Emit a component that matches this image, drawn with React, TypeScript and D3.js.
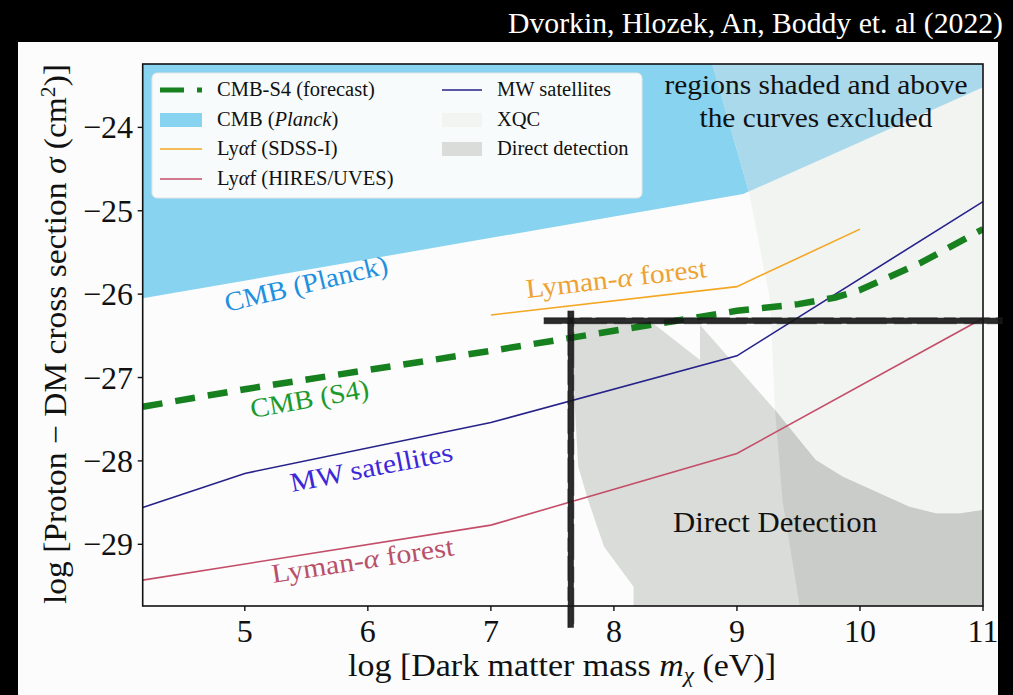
import React from 'react';
import * as d3 from 'd3';

const W = 1013;
const H = 695;

const xTicks = [5, 6, 7, 8, 9, 10, 11];
const yTicks = [-24, -25, -26, -27, -28, -29];

// CMB-S4 forecast (dashed)
const s4X = [4.17, 5, 6, 7, 8, 9, 9.5, 9.8, 10, 10.5, 11];
const s4Y = [-27.35, -27.14, -26.91, -26.68, -26.44, -26.2, -26.12, -26.04, -25.95, -25.62, -25.22];
// MW satellites
const mwX = [4.17, 5, 7, 9, 11];
const mwY = [-28.56, -28.15, -27.54, -26.74, -24.89];
// Lyman-alpha HIRES/UVES
const hiresX = [4.17, 7, 9, 11];
const hiresY = [-29.43, -28.77, -27.91, -26.29];
// Lyman-alpha SDSS-I
const sdssX = [7, 9, 10];
const sdssY = [-26.25, -25.91, -25.22];
// CMB Planck lower boundary
const planckX = [4.17, 9.05, 11];
const planckY = [-26.05, -24.8, -23.52];
// XQC region
const xqcX = [8.8, 9.1, 9.27, 9.31, 9.37, 9.51, 11, 11];
const xqcY = [-23.24, -24.79, -26.07, -27.39, -28.47, -29.74, -29.74, -23.24];
// Direct detection region
const ddX = [7.67, 8.31, 8.7, 8.7, 9.31, 9.42, 9.53, 9.64, 9.86, 10.13, 10.4, 10.62, 10.81, 11, 11, 8.16, 8.16, 7.92, 7.79, 7.71, 7.68];
const ddY = [-26.34, -26.34, -26.79, -26.37, -27.39, -27.59, -27.79, -27.99, -28.19, -28.37, -28.55, -28.63, -28.63, -28.59, -29.74, -29.74, -29.51, -29.03, -28.47, -28.07, -27.3];
// hand-drawn marks
const handHX = [7.43, 11.16];
const handHY = [-26.32, -26.32];
const handVX = [7.65, 7.65];
const handVY = [-26.2, -30.0];

const xDomain = [4.17, 11];
const yDomain = [-29.74, -23.24];

const zip = (xs: number[], ys: number[]) => xs.map((x, i) => [x, ys[i]] as [number, number]);

export default function App() {
  const x = d3.scaleLinear().domain(xDomain).range([142.7, 983]);
  const y = d3.scaleLinear().domain(yDomain).range([606, 64]);
  const line = d3.line<[number, number]>().x(d => x(d[0])).y(d => y(d[1]));

  const planckArea = line([...zip(planckX, planckY), [11, yDomain[1]], [xDomain[0], yDomain[1]]]) + 'Z';
  const xqcPath = line(zip(xqcX, xqcY)) + 'Z';
  const ddPath = line(zip(ddX, ddY)) + 'Z';

  const serif = '"Liberation Serif", "DejaVu Serif", serif';
  const handH = line(zip(handHX, handHY))!;
  const handV = line(zip(handVX, handVY))!;

  const L = { x: 152, y: 73, w: 490, h: 125 };
  const rows = [90, 120, 149, 179];
  const lc1 = 160, lt1 = 217, lc2 = 442, lt2 = 497;

  return (
    <svg width={W} height={H} style={{ position: 'absolute', left: 0, top: 0, background: '#000' }}>
      <defs>
        <clipPath id="plotclip">
          <rect x={x(xDomain[0])} y={y(yDomain[1])} width={x(xDomain[1]) - x(xDomain[0])} height={y(yDomain[0]) - y(yDomain[1])} />
        </clipPath>
        <clipPath id="xqcclip">
          <path d={xqcPath} />
        </clipPath>
      </defs>
      <rect x={0} y={0} width={W} height={H} fill="#000" />
      <rect x={18} y={42} width={980} height={H - 42} fill="#fbfcfb" />
      <text x={1003} y={33} fill="#fff" fontFamily={serif} fontSize={29} textAnchor="end" textLength={495} lengthAdjust="spacingAndGlyphs">Dvorkin, Hlozek, An, Boddy et. al (2022)</text>

      <g clipPath="url(#plotclip)">
        <path d={planckArea} fill="#87d3f0" />
        <path d={xqcPath} fill="#f1f4f1" />
        <path d={planckArea} fill="#a9d9ea" clipPath="url(#xqcclip)" />
        <path d={ddPath} fill="#d9dcd9" />
        <path d={ddPath} fill="#c9ccc9" clipPath="url(#xqcclip)" />

        <path d={line(zip(hiresX, hiresY))!} fill="none" stroke="#c44e6a" strokeWidth={1.6} />
        <path d={line(zip(mwX, mwY))!} fill="none" stroke="#27228a" strokeWidth={1.6} />
        <path d={line(zip(sdssX, sdssY))!} fill="none" stroke="#f5a623" strokeWidth={1.6} />
        <path d={line(zip(s4X, s4Y))!} fill="none" stroke="#17801f" strokeWidth={6.5} strokeDasharray="20,13" />
      </g>

      {/* frame */}
      <rect x={x(xDomain[0])} y={y(yDomain[1])} width={x(xDomain[1]) - x(xDomain[0])} height={y(yDomain[0]) - y(yDomain[1])} fill="none" stroke="#111" strokeWidth={1.6} />

      {/* legend */}
      <rect x={L.x} y={L.y} width={L.w} height={L.h} rx={5} fill="#fbfcfb" fillOpacity={0.97} stroke="#e4e6e4" />
      <line x1={lc1} x2={lc1 + 42} y1={rows[0]} y2={rows[0]} stroke="#17801f" strokeWidth={5} strokeDasharray="24,13" />
      <rect x={lc1} y={rows[1] - 7} width={42} height={14} fill="#87d3f0" />
      <line x1={lc1} x2={lc1 + 42} y1={rows[2]} y2={rows[2]} stroke="#f5a623" strokeWidth={1.6} />
      <line x1={lc1} x2={lc1 + 42} y1={rows[3]} y2={rows[3]} stroke="#c44e6a" strokeWidth={1.6} />
      <line x1={lc2} x2={lc2 + 40} y1={rows[0]} y2={rows[0]} stroke="#27228a" strokeWidth={1.6} />
      <rect x={lc2} y={rows[1] - 7} width={40} height={14} fill="#f1f4f1" />
      <rect x={lc2} y={rows[2] - 7} width={40} height={14} fill="#d9dcd9" />
      <g fontFamily={serif} fontSize={20.5} fill="#111">
        <text x={lt1} y={rows[0] + 6}>CMB-S4 (forecast)</text>
        <text x={lt1} y={rows[1] + 6}>CMB (<tspan fontStyle="italic">Planck</tspan>)</text>
        <text x={lt1} y={rows[2] + 6}>Ly<tspan fontStyle="italic">α</tspan>f (SDSS-I)</text>
        <text x={lt1} y={rows[3] + 6}>Ly<tspan fontStyle="italic">α</tspan>f (HIRES/UVES)</text>
        <text x={lt2} y={rows[0] + 6}>MW satellites</text>
        <text x={lt2} y={rows[1] + 6}>XQC</text>
        <text x={lt2} y={rows[2] + 6}>Direct detection</text>
      </g>

      {/* annotations */}
      <g fontFamily={serif}>
        <text x={816} y={94} fontSize={28} fill="#111" textAnchor="middle" textLength={303} lengthAdjust="spacingAndGlyphs">regions shaded and above</text>
        <text x={816} y={127} fontSize={28} fill="#111" textAnchor="middle" textLength={233} lengthAdjust="spacingAndGlyphs">the curves excluded</text>
        <text x={775} y={532} fontSize={29} fill="#111" textAnchor="middle" textLength={204} lengthAdjust="spacingAndGlyphs">Direct Detection</text>
        <text transform="translate(227,312) rotate(-13.5)" fontSize={27} fill="#2190e0" textLength={167} lengthAdjust="spacingAndGlyphs">CMB (Planck)</text>
        <text transform="translate(252,418) rotate(-10)" fontSize={27} fill="#1d9a2e" textLength={120} lengthAdjust="spacingAndGlyphs">CMB (S4)</text>
        <text transform="translate(292,492) rotate(-11)" fontSize={27} fill="#3c28d8" textLength={165} lengthAdjust="spacingAndGlyphs">MW satellites</text>
        <text transform="translate(273,583) rotate(-8.7)" fontSize={27} fill="#b8506a" textLength={184} lengthAdjust="spacingAndGlyphs">Lyman-<tspan fontStyle="italic">α</tspan> forest</text>
        <text transform="translate(527,298) rotate(-6.6)" fontSize={27} fill="#eea233" textLength={182} lengthAdjust="spacingAndGlyphs">Lyman-<tspan fontStyle="italic">α</tspan> forest</text>
      </g>

      {/* hand drawn marks */}
      <g fill="none" strokeLinecap="butt">
        <path d={handH} stroke="#161616" strokeWidth={6} opacity={0.9} />
        <path d={handH} stroke="#1c1c1c" strokeWidth={2} transform="translate(0,-2.5)" opacity={0.55} strokeDasharray="30,6,12,4" />
        <path d={handH} stroke="#1c1c1c" strokeWidth={2} transform="translate(0,2.5)" opacity={0.5} strokeDasharray="18,5,40,7" />
        <path d={handV} stroke="#161616" strokeWidth={6} opacity={0.9} />
        <path d={handV} stroke="#1c1c1c" strokeWidth={2} transform="translate(-2.5,0)" opacity={0.55} strokeDasharray="25,6,14,4" />
        <path d={handV} stroke="#1c1c1c" strokeWidth={2} transform="translate(2.5,0)" opacity={0.5} strokeDasharray="16,5,36,7" />
      </g>

      {/* axes ticks */}
      <g fontFamily={serif} fontSize={32} fill="#111">
        {xTicks.map(t => (
          <g key={'x' + t}>
            <line x1={x(t)} x2={x(t)} y1={606} y2={611} stroke="#111" strokeWidth={1.4} />
            <text x={x(t)} y={642} textAnchor="middle">{t}</text>
          </g>
        ))}
        {yTicks.map(t => (
          <g key={'y' + t}>
            <line x1={137.7} x2={142.7} y1={y(t)} y2={y(t)} stroke="#111" strokeWidth={1.4} />
            <text x={133} y={y(t) + 11} textAnchor="end">{'\u2212' + Math.abs(t)}</text>
          </g>
        ))}
      </g>

      {/* axis labels */}
      <text x={562} y={676} fontFamily={serif} fontSize={31} fill="#111" textAnchor="middle" textLength={428} lengthAdjust="spacingAndGlyphs">
        log [Dark matter mass <tspan fontStyle="italic">m</tspan><tspan fontStyle="italic" fontSize={21} dy={6}>χ</tspan><tspan dy={-6}> (eV)]</tspan>
      </text>
      <text transform="translate(66,334) rotate(-90)" fontFamily={serif} fontSize={31} fill="#111" textAnchor="middle" textLength={540} lengthAdjust="spacingAndGlyphs">
        log [Proton − DM cross section <tspan fontStyle="italic">σ</tspan> (cm<tspan fontSize={20} dy={-11}>2</tspan><tspan dy={11}>)]</tspan>
      </text>
    </svg>
  );
}
